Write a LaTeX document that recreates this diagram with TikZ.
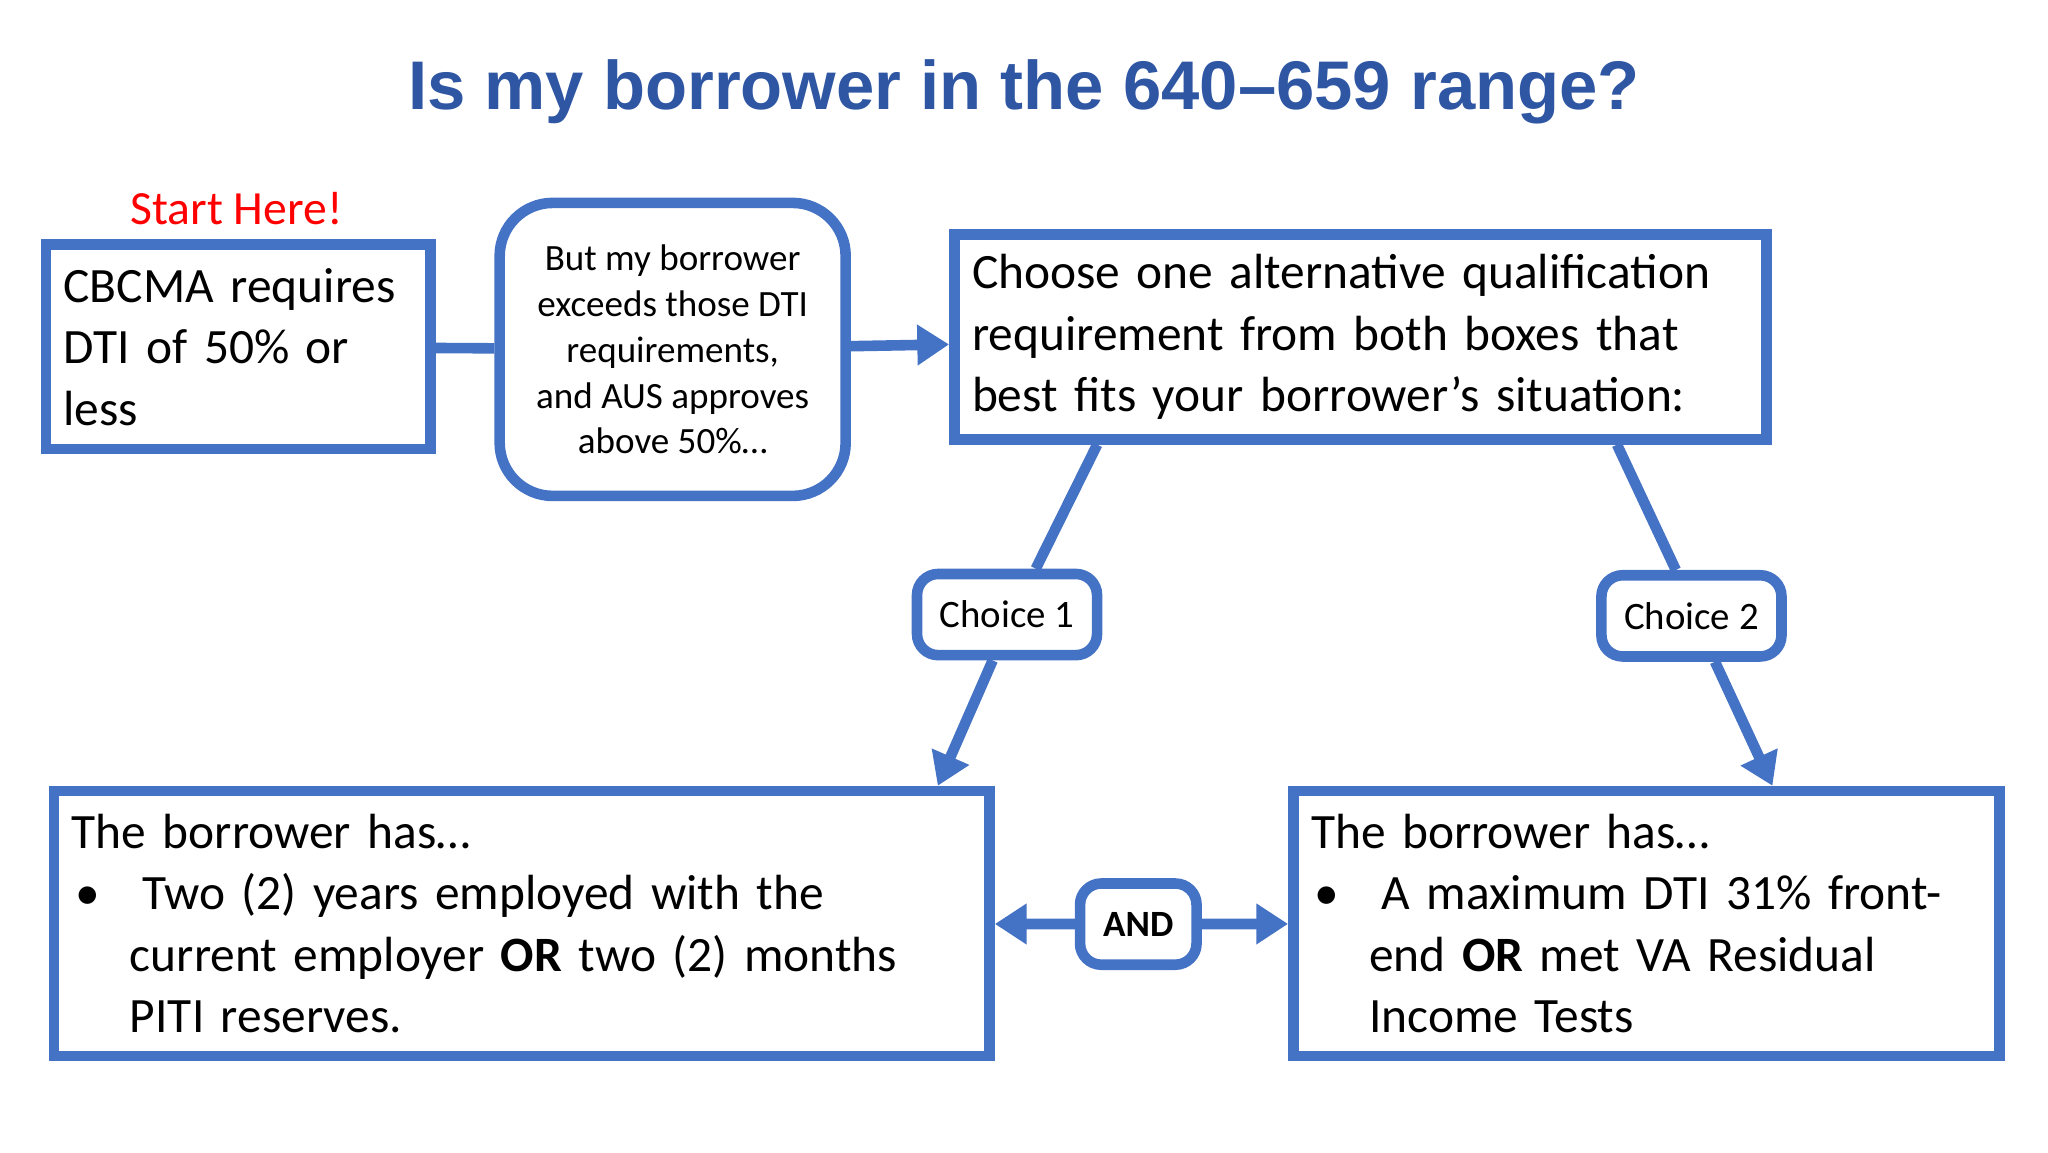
\documentclass[tikz,border=0pt]{standalone}
\usepackage{fontspec}
\setmainfont{Carlito}
\newfontfamily\titlefont{Liberation Sans}
\usetikzlibrary{arrows.meta}
\definecolor{bx}{HTML}{4472C4}
\definecolor{tt}{HTML}{2F56A3}
\begin{document}
\begin{tikzpicture}[x=0.37pt,y=-0.37pt,
 box/.style={draw=bx,line width=3pt,inner sep=5pt,align=left},
 rbox/.style={box,rounded corners=6pt,align=center},
 con/.style={draw=bx,line width=3pt},
 arr/.style={con,-{Triangle[length=9pt,width=11pt]}}]
\useasboundingbox (0,0) rectangle (1568,882);
\node[font=\titlefont\bfseries\fontsize{19.5}{22}\selectfont,text=tt] (title) at (784,70) {Is my borrower in the 640–659 range?};
\node[text=red,font=\fontsize{13.5}{16}\selectfont] (start) at (181,160) {Start Here!};
\node[box,minimum width=109pt,minimum height=58pt,text width=99pt,font=\fontsize{14}{17.4}\selectfont] (b1) at (182.5,265.5) {CBCMA requires\\DTI of 50\% or\\less};
\node[rbox,rounded corners=15pt,minimum width=98pt,minimum height=83pt,font=\fontsize{10.5}{13}\selectfont] (b2) at (515,267.5) {But my borrower\\exceeds those DTI\\requirements,\\and AUS approves\\above 50\%…};
\node[box,minimum width=228pt,minimum height=58pt,text width=220pt,font=\fontsize{14}{17.4}\selectfont] (b3) at (1041.5,258) {Choose one alternative qualification\\requirement from both boxes that\\best fits your borrower’s situation:};
\node[rbox,minimum width=51pt,minimum height=23pt,font=\fontsize{11}{13}\selectfont] (c1) at (771,470.5) {Choice 1};
\node[rbox,minimum width=51pt,minimum height=23pt,font=\fontsize{11}{13}\selectfont] (c2) at (1295,471.5) {Choice 2};
\node[box,minimum width=261.5pt,minimum height=75pt,text width=255pt,font=\fontsize{14}{17.4}\selectfont] (b4) at (399.5,707) {The borrower has…\\
\hspace*{1pt}•\hspace{12pt}Two (2) years employed with the\\
\hspace*{16.5pt}current employer \textbf{OR} two (2) months\\
\hspace*{16.5pt}PITI reserves.};
\node[box,minimum width=196pt,minimum height=75pt,text width=190pt,font=\fontsize{14}{17.4}\selectfont] (b5) at (1260.5,707) {The borrower has…\\
\hspace*{1pt}•\hspace{12pt}A maximum DTI 31\% front-\\
\hspace*{16.5pt}end \textbf{OR} met VA Residual\\
\hspace*{16.5pt}Income Tests};
\node[rbox,minimum width=33pt,minimum height=23pt,font=\bfseries\fontsize{10.5}{13}\selectfont] (and) at (871.5,707.5) {AND};
\draw[con] (b1) -- (b2);
\draw[arr] (b2) -- (b3);
\draw[con] (b3.south -| 840,0) -- (c1.north -| 793,0);
\draw[arr] (c1.south -| 760,0) -- (b4.north -| 718,0);
\draw[con] (b3.south -| 1238,0) -- (c2.north -| 1283,0);
\draw[arr] (c2.south -| 1313,0) -- (b5.north -| 1357,0);
\draw[arr] (and) -- (b4);
\draw[arr] (and) -- (b5);
\end{tikzpicture}
\end{document}
